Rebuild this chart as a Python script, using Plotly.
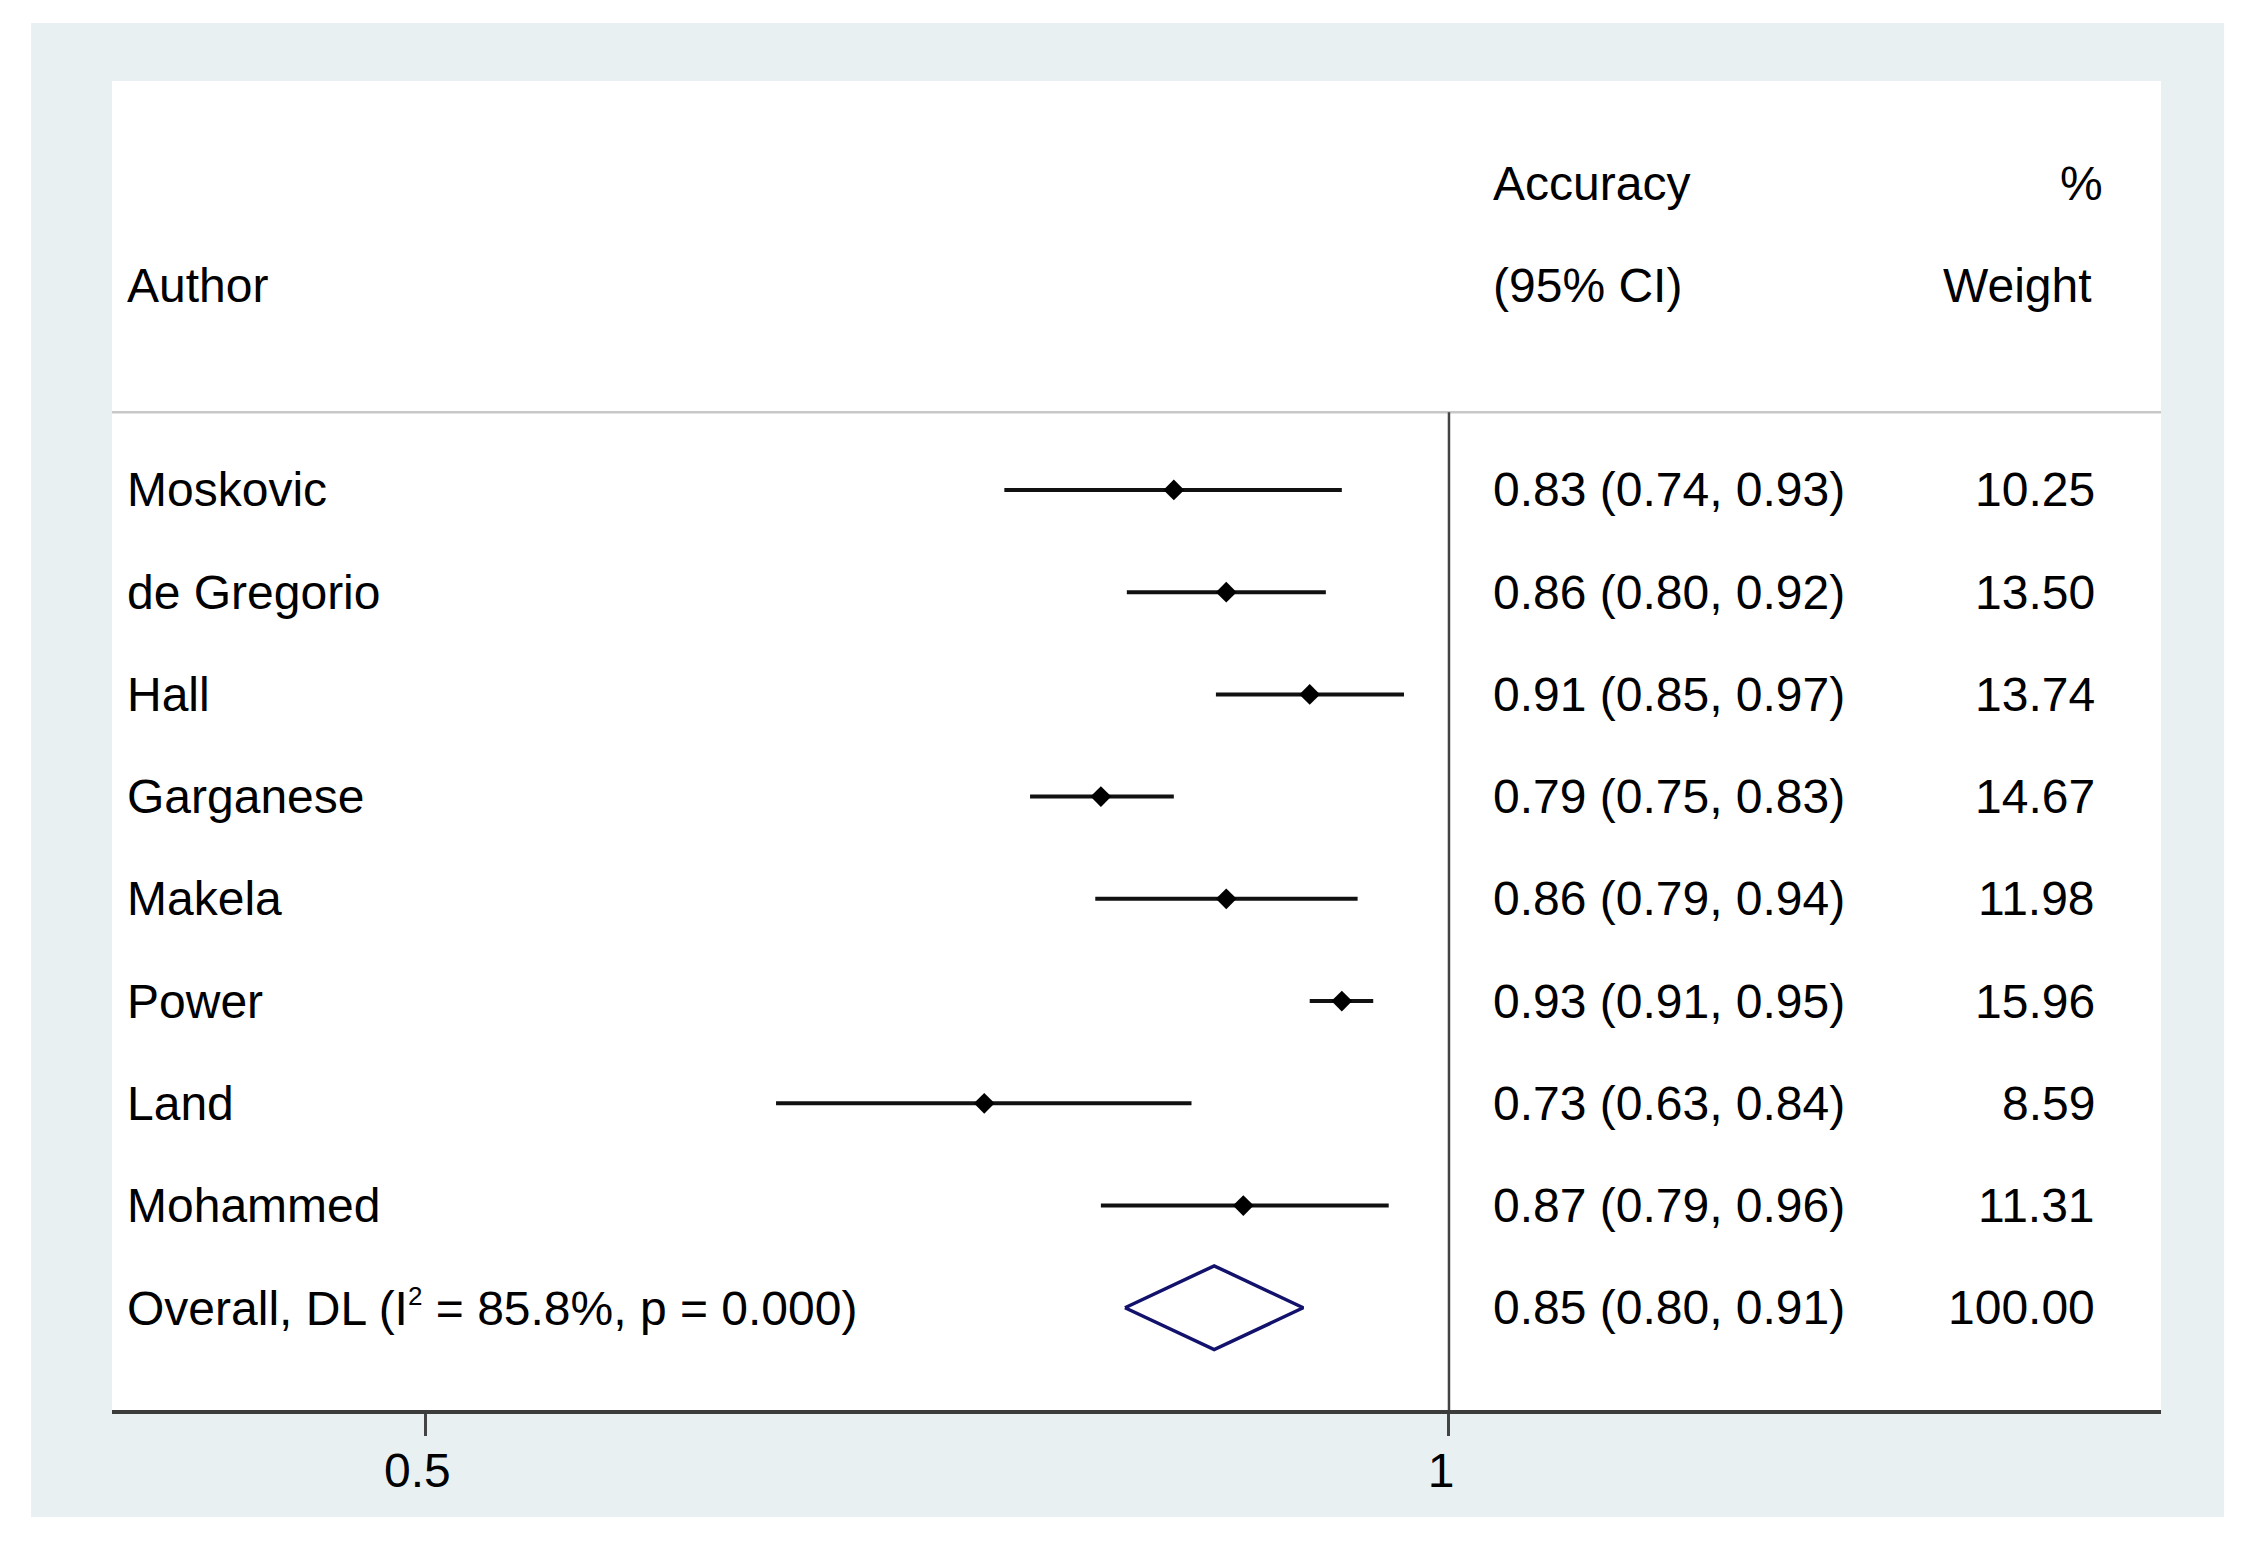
import plotly.graph_objects as go

authors = ["Moskovic", "de Gregorio", "Hall", "Garganese", "Makela", "Power", "Land", "Mohammed"]
accuracy = [0.83, 0.86, 0.91, 0.79, 0.86, 0.93, 0.73, 0.87]
ci_low = [0.74, 0.804, 0.854, 0.753, 0.787, 0.91, 0.634, 0.79]
ci_high = [0.93, 0.92, 0.97, 0.83, 0.94, 0.95, 0.84, 0.96]
weights = [10.25, 13.50, 13.74, 14.67, 11.98, 15.96, 8.59, 11.31]

# pooled estimate
overall_est = 0.853
overall_low = 0.803
overall_high = 0.906
overall_weight = 100.00
i_squared = 85.8
p_value = 0.000

tick_vals = [0.5, 1]
tick_text = ["0.5", "1"]

FONT = "Liberation Sans, Arial, sans-serif"
BG = "#e9f0f2"
NAVY = "#12126c"

rows = list(range(len(authors)))
overall_row = len(authors)

fig = go.Figure()

# confidence interval lines
line_x = []
line_y = []
for i in rows:
    line_x += [ci_low[i], ci_high[i], None]
    line_y += [i, i, None]
fig.add_trace(go.Scatter(x=line_x, y=line_y, mode="lines",
                         line=dict(color="#111111", width=4), hoverinfo="skip"))

# point estimates
fig.add_trace(go.Scatter(x=accuracy, y=rows, mode="markers",
                         marker=dict(symbol="diamond", size=16, color="black")))

# overall diamond
h = 0.41
fig.add_trace(go.Scatter(
    x=[overall_low, overall_est, overall_high, overall_est, overall_low],
    y=[overall_row, overall_row - h, overall_row, overall_row + h, overall_row],
    mode="lines", line=dict(color=NAVY, width=3.5), hoverinfo="skip"))

# backgrounds: grey graph region, white plot region
shapes = [
    dict(type="rect", xref="paper", yref="paper", x0=-0.0395, x1=1.0308, y0=-0.0805, y1=1.0436,
         fillcolor=BG, line=dict(width=0), layer="below"),
    dict(type="rect", xref="paper", yref="paper", x0=0, x1=1, y0=0, y1=1,
         fillcolor="white", line=dict(width=0), layer="below"),
    # header separator
    dict(type="line", xref="paper", yref="y", x0=0, x1=1, y0=-0.76, y1=-0.76,
         line=dict(color="#c8c8c8", width=2.5)),
    # line of no effect at 1
    dict(type="line", xref="x", yref="y", x0=1, x1=1, y0=-0.76, y1=9,
         line=dict(color="#444444", width=2.5)),
]

x_author = 0.0063
x_ci = 0.673
x_weight = 0.9688

ann = []


def txt(x, y, s, anchor="left"):
    ann.append(dict(x=x, y=y, xref="paper", yref="y", text=s, showarrow=False,
                    xanchor=anchor, yanchor="middle",
                    font=dict(family=FONT, size=48, color="black")))


# headers
txt(x_author, -2, "Author")
txt(x_ci, -3, "Accuracy")
txt(x_ci, -2, "(95% CI)")
txt(0.9727, -3, "%", "right")
txt(0.9673, -2, "Weight", "right")

for i in rows:
    txt(x_author, i, authors[i])
    txt(x_ci, i, "%.2f (%.2f, %.2f)" % (accuracy[i], ci_low[i], ci_high[i]))
    txt(x_weight, i, "%.2f" % weights[i], "right")

txt(x_author, overall_row,
    "Overall, DL (I<sup><span style='font-size:26px'>2</span></sup> = %.1f%%, p = %.3f)"
    % (i_squared, p_value))
txt(x_ci, overall_row, "%.2f (%.2f, %.2f)" % (overall_est, overall_low, overall_high))
txt(x_weight, overall_row, "%.2f" % overall_weight, "right")

# page body keeps an 8px margin, so the figure is sized to fit inside it
fig.update_layout(
    width=2238, height=1540,
    margin=dict(l=104, r=85, t=73, b=138),
    paper_bgcolor="white",
    plot_bgcolor="rgba(0,0,0,0)",
    showlegend=False,
    shapes=shapes,
    annotations=ann,
    font=dict(family=FONT, size=48, color="black"),
)

fig.update_xaxes(type="log", range=[-0.3932, 0.2094],
                 tickvals=tick_vals, ticktext=tick_text,
                 ticks="outside", ticklen=22, tickwidth=2.5, tickcolor="#444444",
                 showline=True, linewidth=4, linecolor="#3c3c3c",
                 showgrid=False, zeroline=False,
                 ticklabelstandoff=-7, ticklabelshift=-8,
                 tickfont=dict(family=FONT, size=48, color="black"))
fig.update_yaxes(range=[9, -4], showgrid=False, zeroline=False,
                 showticklabels=False, showline=False)

fig.write_html("out.html")
